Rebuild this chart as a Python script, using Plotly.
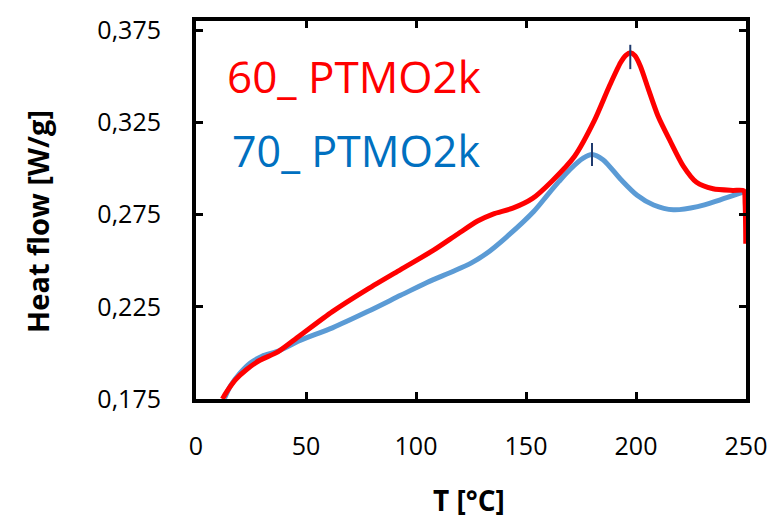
import plotly.graph_objects as go

# ---- data ----
t_60 = [12, 14, 18, 23, 29, 37, 47, 62, 78, 93, 108, 119, 128, 135, 144, 153, 162,
        172, 181, 188, 193, 195.5, 197.5, 199.5, 202, 205.5, 210, 215.5, 221.5, 227.5, 235, 244,
        249, 249.6, 249.9]
hf_60 = [0.175, 0.179, 0.1855, 0.191, 0.196, 0.2004, 0.2092, 0.2224, 0.2346, 0.2452, 0.2557,
         0.2645, 0.2715, 0.2753, 0.2785, 0.2838, 0.2934, 0.3065, 0.3258, 0.345, 0.3575, 0.3615,
         0.3628, 0.3612, 0.3555, 0.3435, 0.3285, 0.3150, 0.3013, 0.2925, 0.289, 0.2881,
         0.2879, 0.281, 0.2592]

t_70 = [13, 15.6, 20, 24.7, 30, 37, 47, 62, 78, 93, 105, 117, 125, 132, 141, 153.5, 160,
        165, 170, 176, 180, 185, 193, 200.5, 208, 217, 228, 238, 249]
hf_70 = [0.1755, 0.182, 0.189, 0.1945, 0.1982, 0.2008, 0.2066, 0.2136, 0.2224, 0.2312, 0.2382,
         0.2443, 0.2487, 0.2539, 0.2627, 0.2767, 0.286, 0.293, 0.2995, 0.3056, 0.3076, 0.3048,
         0.2942, 0.2855, 0.2802, 0.2776, 0.2793, 0.2829, 0.2873]

# peak markers (short vertical bars)
peak_t = [197.4, 180.0]
peak_lo = [0.3539, 0.3013]
peak_hi = [0.3671, 0.3139]

x_ticks = [0, 50, 100, 150, 200, 250]
y_ticks = [0.175, 0.225, 0.275, 0.325, 0.375]
y_ticktext = ["0,175", "0,225", "0,275", "0,325", "0,375"]

label_60 = "60_ PTMO2k"
label_70 = "70_ PTMO2k"
x_title = "T [°C]"
y_title = "Heat flow [W/g]"

RED = "#FF0000"
BLUE_LINE = "#5B9BD5"
BLUE_TEXT = "#0070C0"
MARK = "#1F3A6E"
FONT = "Open Sans"

fig = go.Figure()
fig.add_trace(go.Scatter(x=t_70, y=hf_70, mode="lines",
                         line=dict(color=BLUE_LINE, width=5, shape="spline", smoothing=0.8),
                         showlegend=False))
fig.add_trace(go.Scatter(x=t_60, y=hf_60, mode="lines",
                         line=dict(color=RED, width=5, shape="spline", smoothing=0.7),
                         showlegend=False))
for t, lo, hi in zip(peak_t, peak_lo, peak_hi):
    fig.add_trace(go.Scatter(x=[t, t], y=[lo, hi], mode="lines",
                             line=dict(color=MARK, width=2), showlegend=False))

axis_common = dict(showline=True, linecolor="black", linewidth=4, mirror="ticks",
                   ticks="inside", ticklen=7, tickwidth=3, tickcolor="black",
                   showgrid=False, zeroline=False,
                   tickfont=dict(family=FONT, size=25, color="black"))

fig.update_xaxes(range=[0, 250], tickvals=x_ticks, ticklabelstandoff=22, **axis_common)
fig.update_yaxes(range=[0.175, 0.38], tickvals=y_ticks, ticktext=y_ticktext,
                 ticklabelstandoff=26, **axis_common)

fig.add_annotation(text=label_60, xref="paper", yref="paper", x=0.0527, y=0.855,
                   xanchor="left", yanchor="middle", showarrow=False,
                   font=dict(family=FONT, size=44, color=RED))
fig.add_annotation(text=label_70, xref="paper", yref="paper", x=0.0618, y=0.658,
                   xanchor="left", yanchor="middle", showarrow=False,
                   font=dict(family=FONT, size=43, color=BLUE_TEXT))
fig.add_annotation(text="<b>" + x_title + "</b>", xref="paper", yref="paper", x=0.496, y=-0.266,
                   xanchor="center", yanchor="middle", showarrow=False,
                   font=dict(family=FONT, size=28, color="black"))
fig.add_annotation(text="<b>" + y_title + "</b>", xref="paper", yref="paper", x=-0.288, y=0.47,
                   xanchor="center", yanchor="middle", showarrow=False, textangle=-90,
                   font=dict(family=FONT, size=29, color="black"))

fig.update_layout(width=781, height=522, margin=dict(l=196, r=35, t=12, b=123),
                  plot_bgcolor="white", paper_bgcolor="white")

fig.write_html("out.html")
